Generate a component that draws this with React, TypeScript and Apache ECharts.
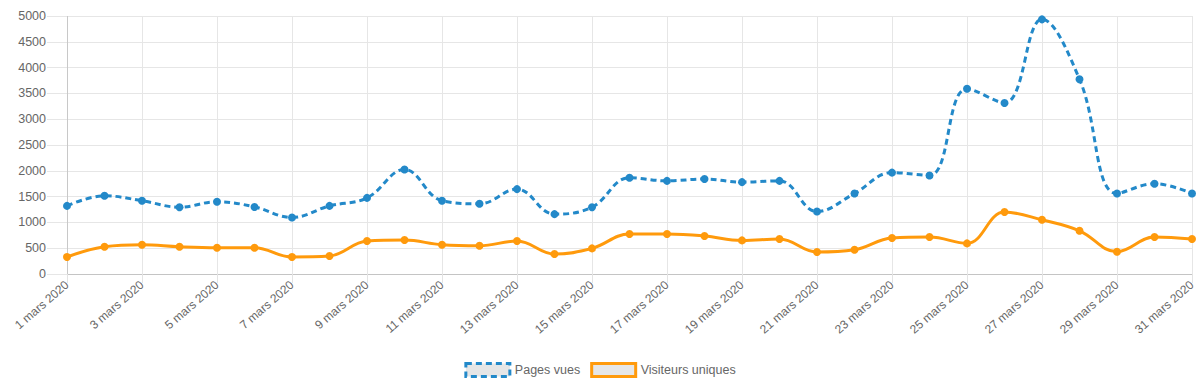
import React, { useEffect, useRef } from "react";
import * as echarts from "echarts";

const days: string[] = Array.from({ length: 31 }, (_, i) => `${i + 1} mars 2020`);

const pagesVues: number[] = [
  1320, 1515, 1420, 1295, 1400, 1300, 1095, 1320, 1475, 2025,
  1420, 1360, 1645, 1160, 1295, 1865, 1805, 1840, 1780, 1805,
  1210, 1560, 1965, 1910, 3590, 3315, 4935, 3775, 1560, 1750, 1560,
];

const visiteursUniques: number[] = [
  330, 528, 567, 528, 509, 509, 330, 348, 639, 658,
  567, 548, 639, 387, 496, 774, 774, 736, 651, 677,
  426, 470, 697, 716, 593, 1200, 1051, 838, 432, 716, 677,
];

const BLUE = "#2389c9";
const ORANGE = "#ff9a0c";

export default function App() {
  const ref = useRef<HTMLDivElement>(null);

  useEffect(() => {
    if (!ref.current) return;
    const chart = echarts.init(ref.current, undefined, { renderer: "svg" });
    const font = "Liberation Sans, Arial, Helvetica, sans-serif";
    const grid = "#e6e6e6";
    chart.setOption({
      animation: false,
      textStyle: { fontFamily: font },
      grid: { left: 67, right: 8, top: 16, bottom: 108, containLabel: false },
      legend: {
        top: 362,
        left: "center",
        padding: 0,
        itemWidth: 44,
        itemHeight: 13,
        itemGap: 10,
        icon: "rect",
        textStyle: { color: "#666", fontSize: 12.5, fontFamily: font },
        data: [
          {
            name: "Pages vues",
            itemStyle: { color: "#e6e6e6", borderColor: BLUE, borderWidth: 3, borderType: [6, 4] },
          },
          {
            name: "Visiteurs uniques",
            itemStyle: { color: "#e6e6e6", borderColor: ORANGE, borderWidth: 3, borderType: "solid" },
          },
        ],
      },
      xAxis: {
        type: "category",
        data: days,
        boundaryGap: false,
        axisLine: { show: true, lineStyle: { color: "#c4c4c4", width: 1 } },
        axisTick: { show: true, interval: 1, length: 9, lineStyle: { color: "#e3e3e3" } },
        splitLine: {
          show: true,
          interval: 1,
          lineStyle: {
            color: ["#c8c8c8", grid, grid, grid, grid, grid, grid, grid, grid, grid, grid, grid, grid, grid, grid, grid],
            width: 1,
          },
        },
        axisLabel: {
          interval: 1,
          rotate: 41,
          color: "#666",
          fontSize: 12,
          margin: 9,
          fontFamily: font,
        },
      },
      yAxis: {
        type: "value",
        min: 0,
        max: 5000,
        interval: 500,
        axisLine: { show: false },
        axisTick: { show: true, length: 20, lineStyle: { color: grid } },
        splitLine: { show: true, lineStyle: { color: grid, width: 1 } },
        axisLabel: {
          color: "#666",
          fontSize: 12.5,
          margin: 21,
          fontFamily: font,
          formatter: (v: number) => String(v),
        },
      },
      series: [
        {
          name: "Pages vues",
          type: "line",
          data: pagesVues,
          smooth: 0.4,
          symbol: "circle",
          symbolSize: 8,
          itemStyle: { color: BLUE },
          lineStyle: { color: BLUE, width: 3, type: [6, 4] },
          z: 3,
        },
        {
          name: "Visiteurs uniques",
          type: "line",
          data: visiteursUniques,
          smooth: 0.4,
          symbol: "circle",
          symbolSize: 8,
          itemStyle: { color: ORANGE },
          lineStyle: { color: ORANGE, width: 3 },
          z: 2,
        },
      ],
    });
    return () => chart.dispose();
  }, []);

  return (
    <div
      ref={ref}
      style={{ position: "absolute", left: 0, top: 0, width: 1200, height: 382 }}
    />
  );
}
